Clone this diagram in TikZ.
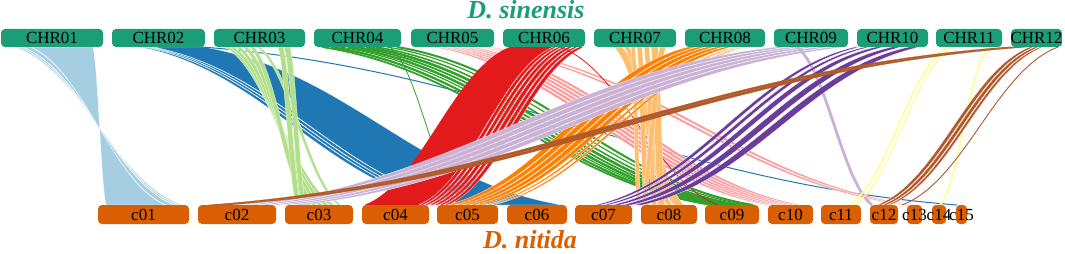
\documentclass[tikz,border=0pt]{standalone}
\usepackage{fontspec}
\setmainfont{Liberation Serif}
\definecolor{gtop}{HTML}{1B9E77}
\definecolor{obot}{HTML}{D95F02}
\definecolor{lb}{HTML}{A6CEE3}
\definecolor{bl}{HTML}{1F78B4}
\definecolor{lg}{HTML}{B2DF8A}
\definecolor{gr}{HTML}{33A02C}
\definecolor{pk}{HTML}{FB9A99}
\definecolor{rd}{HTML}{E31A1C}
\definecolor{lo}{HTML}{FDBF6F}
\definecolor{orr}{HTML}{FF7F00}
\definecolor{lv}{HTML}{CAB2D6}
\definecolor{pu}{HTML}{6A3D9A}
\definecolor{ye}{HTML}{FFFF99}
\definecolor{br}{HTML}{B15928}
\newcommand\sband[5]{%
  \pgfmathsetmacro\pA{#2+0.4*(#4-#2)}%
  \pgfmathsetmacro\pB{#4-0.4*(#4-#2)}%
  \pgfmathsetmacro\qA{#3+0.4*(#5-#3)}%
  \pgfmathsetmacro\qB{#5-0.4*(#5-#3)}%
  \path[#1] (#2,47) .. controls (\pA,70.7) and (\pB,181.3) .. (#4,205) -- (#5,205) .. controls (\qB,181.3) and (\qA,70.7) .. (#3,47) -- cycle;}
\newcommand\sline[3]{%
  \pgfmathsetmacro\pA{#2+0.4*(#3-#2)}%
  \pgfmathsetmacro\pB{#3-0.4*(#3-#2)}%
  \draw[#1] (#2,47) .. controls (\pA,70.7) and (\pB,181.3) .. (#3,205);}
\begin{document}
\begin{tikzpicture}[x=1pt,y=-1pt,
  rib/.style={fill=#1,draw=white,line width=0.25pt},
  solid rib/.style={fill=#1,draw=#1,line width=0.3pt},
  tbox/.style={fill=gtop,rounded corners=4pt,minimum height=18pt,inner sep=0pt,anchor=center},
  bbox/.style={fill=obot,rounded corners=4pt,minimum height=19pt,inner sep=0pt,anchor=center},
  every label/.style={inner sep=0pt,font=\fontsize{17}{18}\selectfont,text=black},
  ttl/.style={font=\fontsize{26}{28}\selectfont\bfseries\itshape,anchor=base,inner sep=0pt}]
\useasboundingbox (0,0) rectangle (1065,254);
% light blue CHR01 -> c01
\sband{rib=lb}{15}{18}{182}{179}
\sband{rib=lb}{19}{22}{178}{175}
\sband{rib=lb}{23}{30}{174}{166}
\sband{rib=lb}{31}{93}{165}{106}
% blue CHR02 -> c06
\sband{rib=bl}{140}{144}{447}{453}
\sband{rib=bl}{145}{148}{454}{459}
\sband{rib=bl}{149}{152}{460}{466}
\sband{rib=bl}{153}{203}{467}{562}
\sline{bl,line width=1pt}{202}{957}
% light green CHR03 -> c03
\sband{rib=lg}{225}{229}{330}{335}
\sband{rib=lg}{230}{234}{324}{329}
\sband{rib=lg}{236}{240}{318}{323}
\sband{rib=lg}{243}{247}{312}{317}
\sband{rib=lg}{250}{254}{306}{311}
\sband{rib=lg}{257}{260}{338}{341}
\sband{rib=lg}{278}{283}{296}{301}
\sband{rib=lg}{284}{290}{302}{306}
% green CHR04 -> c09
\sline{gr,line width=1.8pt}{322}{712}
\sline{gr,line width=2.2pt}{331}{716}
\sline{gr,line width=1.2pt}{340}{720}
\sline{gr,line width=2.4pt}{348}{724}
\sline{gr,line width=1.8pt}{357}{729}
\sline{gr,line width=2.6pt}{366}{735}
\sline{gr,line width=1.6pt}{376}{741}
\sline{gr,line width=1.2pt}{387}{747}
\sline{gr,line width=2pt}{397}{753}
\sline{gr,line width=0.8pt}{390}{463}
% pink CHR05 -> c10, c13
\sband{rib=pk}{433}{438}{767}{772}
\sband{rib=pk}{440}{445}{773}{778}
\sband{rib=pk}{447}{452}{779}{784}
\sband{rib=pk}{454}{459}{785}{790}
\sband{rib=pk}{461}{466}{791}{796}
\sband{rib=pk}{468}{473}{797}{802}
\sband{rib=pk}{476}{481}{903}{908}
\sband{rib=pk}{486}{491}{909}{914}
% red CHR06 -> c04
\sband{solid rib=rd}{510}{552}{365}{418}
\sband{rib=rd}{553}{557}{419}{423}
\sband{rib=rd}{558}{562}{424}{428}
\sband{rib=rd}{563}{567}{429}{433}
\sband{rib=rd}{568}{573}{434}{438}
\sband{rib=rd}{574}{578}{439}{443}
\sband{rib=rd}{579}{584}{444}{448}
\sline{rd,line width=0.8pt}{560}{718}
% light orange CHR07 -> c08
\sband{rib=lo}{614}{622}{674}{684}
\sband{rib=lo}{624}{629}{667}{672}
\sband{rib=lo}{631}{635}{637}{641}
\sband{rib=lo}{637}{642}{644}{649}
\sband{rib=lo}{644}{649}{652}{657}
\sband{rib=lo}{651}{658}{658}{665}
\sband{rib=lo}{660}{666}{640}{644}
% orange CHR08 -> c05
\sband{rib=orr}{688}{697}{447}{454}
\sband{rib=orr}{698}{706}{455}{461}
\sband{rib=orr}{707}{715}{462}{468}
\sband{rib=orr}{716}{724}{469}{475}
\sband{rib=orr}{725}{732}{476}{481}
\sband{rib=orr}{736}{739}{484}{487}
\sband{rib=orr}{743}{746}{490}{493}
% lavender CHR09 -> c02, c12
\sband{rib=lv}{776}{790}{246}{256}
\sband{rib=lv}{791}{804}{257}{267}
\sband{rib=lv}{805}{818}{268}{278}
\sband{rib=lv}{819}{832}{279}{289}
\sband{rib=lv}{833}{846}{290}{300}
\sline{lv,line width=2.8pt}{797}{872}
% purple CHR10 -> c07
\sband{rib=pu}{855}{860}{595}{600}
\sband{rib=pu}{865}{870}{603}{608}
\sband{rib=pu}{876}{884}{612}{619}
\sband{rib=pu}{892}{902}{622}{631}
\sband{rib=pu}{909}{920}{633}{642}
% yellow CHR11 -> c11, c14
\sline{ye,line width=1.6pt}{947}{849}
\sline{ye,line width=1.3pt}{952}{854}
\sline{ye,line width=1.6pt}{988}{940}
% brown CHR12 -> c02, c12, c13
\sband{solid rib=br}{1008}{1017}{208}{217}
\sband{solid rib=br}{1018}{1027}{218}{228}
\sband{rib=br}{1030}{1034}{877}{881}
\sband{rib=br}{1035}{1039}{882}{886}
\sband{rib=br}{1040}{1043}{887}{890}
\sline{br,line width=0.9pt}{1058}{902}
% top boxes
\node[tbox,minimum width=102pt,label={center:CHR01}] (chr01) at (52,38) {};
\node[tbox,minimum width=93pt,label={center:CHR02}] (chr02) at (158.5,38) {};
\node[tbox,minimum width=91pt,label={center:CHR03}] (chr03) at (259.5,38) {};
\node[tbox,minimum width=87pt,label={center:CHR04}] (chr04) at (357.5,38) {};
\node[tbox,minimum width=83pt,label={center:CHR05}] (chr05) at (452.5,38) {};
\node[tbox,minimum width=82pt,label={center:CHR06}] (chr06) at (544,38) {};
\node[tbox,minimum width=82pt,label={center:CHR07}] (chr07) at (635,38) {};
\node[tbox,minimum width=80pt,label={center:CHR08}] (chr08) at (725,38) {};
\node[tbox,minimum width=74pt,label={center:CHR09}] (chr09) at (811,38) {};
\node[tbox,minimum width=71pt,label={center:CHR10}] (chr10) at (892.5,38) {};
\node[tbox,minimum width=66pt,label={center:CHR11}] (chr11) at (969,38) {};
\node[tbox,minimum width=51pt,label={center:CHR12}] (chr12) at (1036.5,38) {};
% bottom boxes
\node[bbox,minimum width=91pt,label={center:c01}] (c01) at (143.5,214.5) {};
\node[bbox,minimum width=78pt,label={center:c02}] (c02) at (237,214.5) {};
\node[bbox,minimum width=68pt,label={center:c03}] (c03) at (319,214.5) {};
\node[bbox,minimum width=67pt,label={center:c04}] (c04) at (395.5,214.5) {};
\node[bbox,minimum width=61pt,label={center:c05}] (c05) at (467.5,214.5) {};
\node[bbox,minimum width=60pt,label={center:c06}] (c06) at (537,214.5) {};
\node[bbox,minimum width=57pt,label={center:c07}] (c07) at (603.5,214.5) {};
\node[bbox,minimum width=56pt,label={center:c08}] (c08) at (669,214.5) {};
\node[bbox,minimum width=54pt,label={center:c09}] (c09) at (732,214.5) {};
\node[bbox,minimum width=45pt,label={center:c10}] (c10) at (790.5,214.5) {};
\node[bbox,minimum width=40pt,label={center:c11}] (c11) at (841,214.5) {};
\node[bbox,minimum width=28pt,label={center:c12}] (c12) at (884,214.5) {};
\node[bbox,minimum width=15pt,label={center:c13}] (c13) at (914.5,214.5) {};
\node[bbox,minimum width=14pt,label={center:c14}] (c14) at (939,214.5) {};
\node[bbox,minimum width=11pt,label={center:c15}] (c15) at (961.5,214.5) {};
% titles
\node[ttl,text=gtop] (tsin) at (526,19) {D. sinensis};
\node[ttl,text=obot] (tnit) at (530,248.5) {D. nitida};
\end{tikzpicture}
\end{document}
